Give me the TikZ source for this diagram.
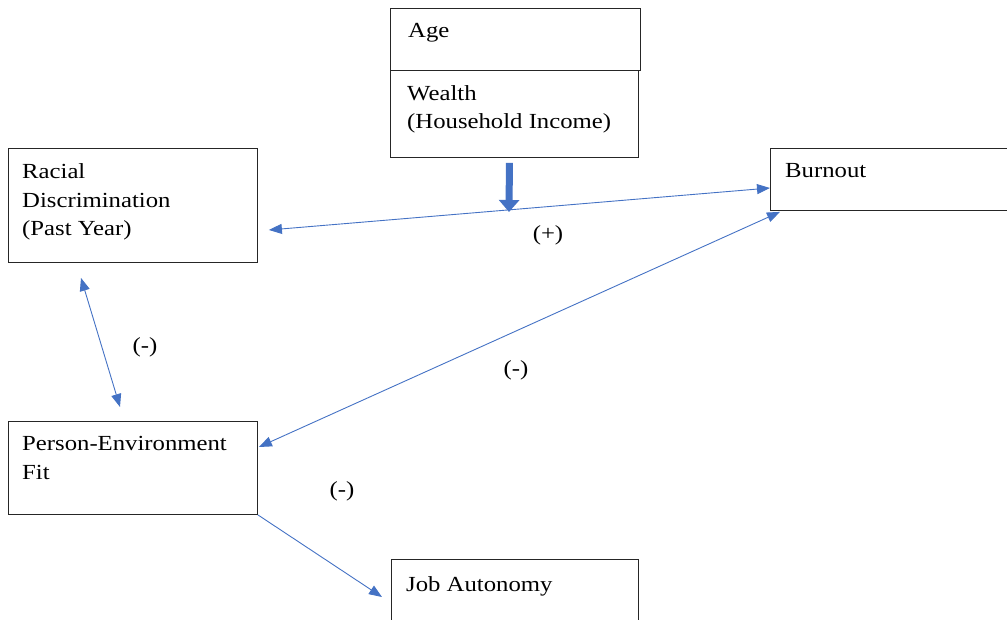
\documentclass[tikz,border=0pt]{standalone}
\usepackage{fontspec}
\setmainfont{Liberation Serif}[FakeStretch=1.15]
\usetikzlibrary{arrows.meta}
\definecolor{linkblue}{RGB}{68,114,196}
\definecolor{darkblue}{RGB}{47,82,143}
\tikzset{
  box/.style={draw=black!85, line width=0.9pt, rectangle, inner sep=0pt, anchor=north west},
  boxtext/.style={anchor=base west, align=left, inner sep=0pt, font=\fontsize{21.5}{28.5}\selectfont},
  sign/.style={inner sep=0pt, font=\fontsize{21.5}{26}\selectfont},
  link/.style={draw=linkblue, line width=0.9pt},
  tipA/.tip={Triangle[length=13pt,width=10pt]},
  both/.style={link, tipA-tipA},
  one/.style={link, -tipA},
  thick arrow/.style={draw=linkblue, line width=7pt, -{Triangle[length=12pt,width=20pt]}}
}
\begin{document}
\begin{tikzpicture}[x=1pt,y=-1pt]
\useasboundingbox (0,0) rectangle (1007,620);
\clip (0,0) rectangle (1007,620);
% boxes
\node[box, minimum width=250pt, minimum height=62pt] (age) at (390,8) {};
\node[box, minimum width=248pt, minimum height=87pt] (wealth) at (390,70) {};
\node[box, minimum width=249pt, minimum height=114pt] (racial) at (8,148) {};
\node[box, minimum width=250pt, minimum height=62pt] (burnout) at (770,148) {};
\node[box, minimum width=249pt, minimum height=93pt] (pe) at (8,421) {};
\node[box, minimum width=247pt, minimum height=90pt] (job) at (391,559) {};
% texts (anchor = baseline of last line)
\node[boxtext] (agetext) at (408,38) {Age};
\node[boxtext] (wealthtext) at (407,129) {Wealth\\(Household Income)};
\node[boxtext] (racialtext) at (22,236) {Racial\\Discrimination\\(Past Year)};
\node[boxtext] (burnouttext) at (785,178) {Burnout};
\node[boxtext] (petext) at (22,479) {Person-Environment\\Fit};
\node[boxtext] (jobtext) at (406,591) {Job Autonomy};
% thick moderator arrow
\coordinate (thicktip) at (509,212);
\draw[thick arrow] ([xshift=-5pt,yshift=-5pt]wealth.south) -- (thicktip);
% connectors
\draw[both] ([xshift=11pt,yshift=-82pt]racial.north east) -- ([yshift=-40pt]burnout.north west);
\draw[both] ([xshift=1pt,yshift=-26pt]pe.north east) -- ([xshift=10pt,yshift=-1pt]burnout.south west);
\draw[both] ([xshift=73pt,yshift=-15pt]racial.south west) -- ([xshift=112pt,yshift=14pt]pe.north west);
\draw[one] (pe.south east) -- ([xshift=-9pt,yshift=-38pt]job.north west);
% signs
\node[sign] (plus) at (548,235) {(+)};
\node[sign] (m1) at (145,347) {(-)};
\node[sign] (m2) at (516,370) {(-)};
\node[sign] (m3) at (342,491) {(-)};
\end{tikzpicture}
\end{document}
